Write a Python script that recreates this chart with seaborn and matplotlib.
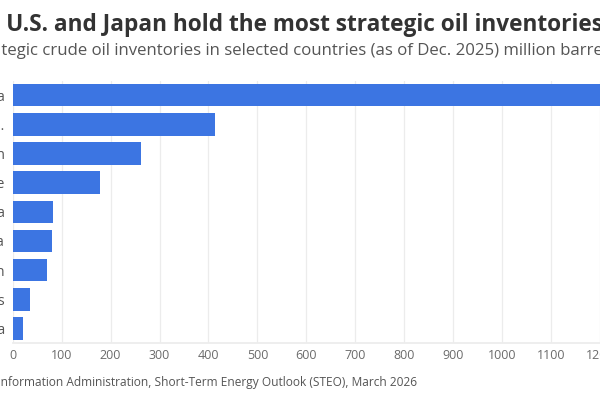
import numpy as np
import pandas as pd
import matplotlib
matplotlib.use("Agg")
import matplotlib.pyplot as plt
import seaborn as sns

# ─────────────────────────────────────────
#  Data (million barrels, as of Dec. 2025)
# ─────────────────────────────────────────
countries = ["China", "U.S.", "Japan", "France", "South Korea",
             "India", "Spain", "Netherlands", "Australia"]
inventories = [1300, 413, 263, 179, 83, 80, 71, 35, 22]
x_ticks = list(range(0, 1500, 100))

title = "China, the U.S. and Japan hold the most strategic oil inventories"
subtitle = ("Strategic crude oil inventories in selected countries "
            "(as of Dec. 2025) million barrels")
source = ("Source: U.S. Energy Information Administration, "
          "Short-Term Energy Outlook (STEO), March 2026")

bar_color = "#3c75e2"
font = "Open Sans"

df = pd.DataFrame({"country": countries, "inventory": inventories})

sns.set_theme(style="whitegrid")
plt.rcParams["font.family"] = [font, "DejaVu Sans"]

W, H = 600, 400
fig = plt.figure(figsize=(W / 100, H / 100), dpi=100)
fig.patch.set_facecolor("white")

# axes run past the right edge, the picture is a crop of a wider chart
ax = fig.add_axes([12.7 / W, 1 - 343 / H, 1400 * 0.4895 / W, 262.3 / H])
sns.barplot(data=df, x="inventory", y="country", orient="h",
            color=bar_color, width=0.77, saturation=1, linewidth=0, ax=ax)
ax.set_xlim(0, 1400)
ax.set_xticks(x_ticks)
ax.set_xlabel("")
ax.set_ylabel("")
ax.set_facecolor("white")
ax.grid(axis="x", color="#ececec", linewidth=0.9)
ax.grid(axis="y", visible=False)
for side in ["top", "right", "left"]:
    ax.spines[side].set_visible(False)
ax.spines["bottom"].set_color("#ececec")
ax.tick_params(axis="x", length=0, pad=4, labelsize=9, labelcolor="#6b6b6b")
ax.tick_params(axis="y", length=0, pad=5.6, labelsize=10.2, labelcolor="#555555")

renderer = fig.canvas.get_renderer()


def text_width(s, size, **kw):
    t = fig.text(0, 0, s, fontsize=size, **kw)
    w = t.get_window_extent(renderer).width
    t.remove()
    return w


def offset(full, word, size, **kw):
    # pixel distance from start of `full` to start of `word`
    prefix = full[:full.index(word)]
    return text_width(prefix + word[0], size, **kw) - text_width(word[0], size, **kw)


def fit_text(full, a, xa, x_end, y_px, **kw):
    # scale and shift text so word a starts at xa and the text ends at x_end
    oa = offset(full, a, 10, **kw)
    oe = text_width(full, 10, **kw)
    k = (x_end - xa) / (oe - oa)
    x0 = xa - oa * k
    fig.text(x0 / W, 1 - y_px / H, full, fontsize=10 * k,
             ha="left", va="baseline", **kw)


fit_text(title, "U.S.", 7, 607, 31, fontweight="bold", color="#333333")
fit_text(subtitle, "tegic", 1, 614, 55, color="#555555")
fit_text(source, "nformation", 0, 417, 386, color="#555555")

fig.savefig("out.png", dpi=100)
